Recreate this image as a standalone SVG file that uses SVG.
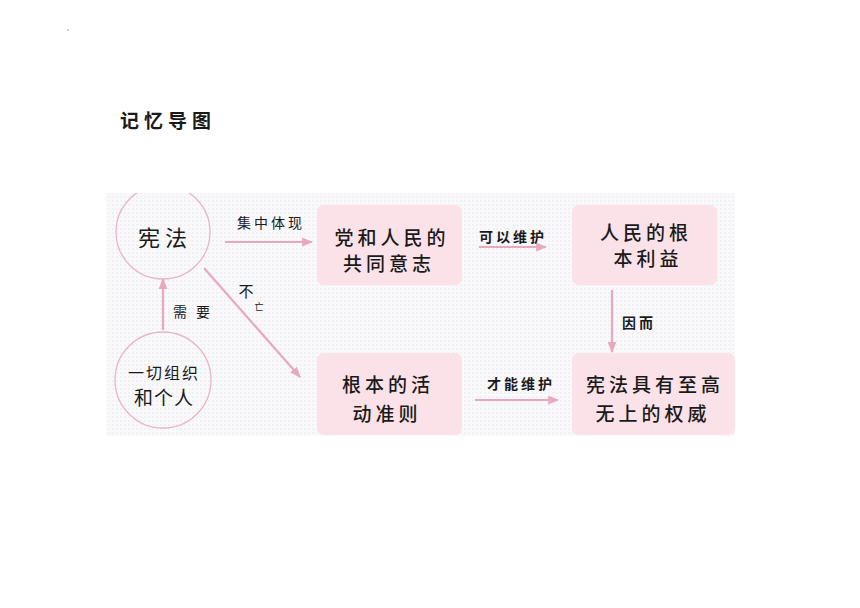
<svg xmlns="http://www.w3.org/2000/svg" width="860" height="608" viewBox="0 0 860 608">
<defs>
<pattern id="dots" width="4" height="4" patternUnits="userSpaceOnUse">
<rect width="4" height="4" fill="#f9f8fa"/>
<circle cx="1" cy="1" r="0.7" fill="#e4e2e8"/>
</pattern>
<marker id="ah" viewBox="0 0 10 10" refX="9" refY="5" markerWidth="5" markerHeight="5" orient="auto">
<path d="M0,1 L10,5 L0,9 Z" fill="#e8a9bd"/>
</marker>
<clipPath id="panel"><rect x="106" y="193" width="629" height="243"/></clipPath>
<style>
.t{font-family:"Noto Sans CJK SC","Noto Sans",sans-serif;fill:#1a1a1a;text-anchor:middle;dominant-baseline:central}
.box{fill:#fbe2e8;stroke:none}
.bt{font-size:19px;font-weight:500;letter-spacing:4px}
.lb{font-size:14px;letter-spacing:3px}
.lbb{font-size:14px;font-weight:700;letter-spacing:3px}
.conn{stroke:#e8a9bd;stroke-width:2.2;fill:none;marker-end:url(#ah)}
.circ{fill:none;stroke:#e8b6c6;stroke-width:1.3}
</style>
</defs>
<rect width="860" height="608" fill="#ffffff"/>
<circle cx="68" cy="30" r="0.8" fill="#999"/>
<text class="t" x="168" y="119" style="font-size:19px;font-weight:700;letter-spacing:5px">记忆导图</text>
<rect x="106" y="193" width="629" height="243" fill="url(#dots)"/>

<g id="node-xianfa" clip-path="url(#panel)">
<circle class="circ" cx="163" cy="232" r="47"/>
<text class="t" x="165" y="236" style="font-size:22px;letter-spacing:5px">宪法</text>
</g>
<g id="node-geren">
<circle class="circ" cx="163" cy="380" r="48"/>
<text class="t" x="164" y="372" style="font-size:16px;letter-spacing:2px">一切组织</text>
<text class="t" x="164" y="396" style="font-size:19px;letter-spacing:1px">和个人</text>
</g>
<g id="node-yizhi">
<rect class="box" x="317" y="205" width="145" height="80" rx="7"/>
<text class="t bt" x="392" y="236">党和人民的</text>
<text class="t bt" x="389" y="262">共同意志</text>
</g>
<g id="node-zhunze">
<rect class="box" x="317" y="353" width="145" height="82" rx="7"/>
<text class="t bt" x="388" y="383">根本的活</text>
<text class="t bt" x="387" y="412">动准则</text>
</g>
<g id="node-liyi">
<rect class="box" x="572" y="205" width="145" height="80" rx="7"/>
<text class="t bt" x="646" y="231">人民的根</text>
<text class="t bt" x="648" y="257">本利益</text>
</g>
<g id="node-quanwei">
<rect class="box" x="572" y="353" width="163" height="82" rx="7"/>
<text class="t bt" x="655" y="383">宪法具有至高</text>
<text class="t bt" x="653" y="412">无上的权威</text>
</g>

<g id="connectors">
<line class="conn" x1="163" y1="330" x2="163" y2="279"/>
<line class="conn" x1="225" y1="242" x2="312" y2="242"/>
<line class="conn" x1="204" y1="268" x2="300" y2="377"/>
<line class="conn" x1="479" y1="247" x2="546" y2="247"/>
<line class="conn" x1="475" y1="400" x2="558" y2="400"/>
<line class="conn" x1="612" y1="290" x2="612" y2="352"/>
<text class="t lb" x="193" y="311">需 要</text>
<text class="t lb" x="271" y="222">集中体现</text>
<text class="t" x="246" y="290" style="font-size:15px">不</text>
<text class="t" x="259" y="306" style="font-size:9px">亡</text>
<text class="t lbb" x="513" y="236">可以维护</text>
<text class="t lbb" x="521" y="383">才能维护</text>
<text class="t lbb" x="639" y="322">因而</text>
</g>
</svg>
